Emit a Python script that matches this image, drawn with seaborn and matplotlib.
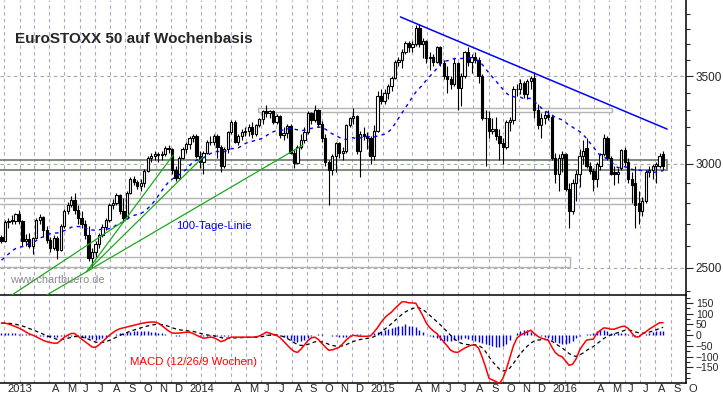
import numpy as np
import pandas as pd
import matplotlib
matplotlib.use("Agg")
import matplotlib.pyplot as plt
import matplotlib.dates as mdates
import matplotlib.transforms as mtransforms
from matplotlib.patches import Rectangle
from matplotlib.ticker import FixedLocator, FuncFormatter, NullFormatter
import seaborn as sns

sns.set_style("white")
plt.rcParams["font.family"] = ["Liberation Sans", "DejaVu Sans"]

# weekly candles, first week starts Monday 2012-12-24
first_week = "2012-12-24"
opens = [2640, 2620, 2709, 2720, 2712, 2749, 2712, 2620, 2630, 2600, 2635, 2720, 2735, 2670, 2625, 2590, 2635, 2580, 2690, 2760,
         2790, 2815, 2765, 2730, 2700, 2650, 2545, 2570, 2605, 2650, 2685, 2720, 2790, 2800, 2840, 2760, 2730, 2850, 2920, 2905,
         2885, 2900, 2965, 3030, 3040, 3050, 3045, 3055, 3085, 3080, 2970, 2925, 3030, 3080, 3105, 3140, 3150, 3040, 3010, 3060,
         3120, 3115, 3150, 3090, 2990, 3080, 3170, 3230, 3120, 3150, 3170, 3180, 3200, 3160, 3210, 3245, 3290, 3280, 3290, 3230,
         3265, 3155, 3165, 3205, 3060, 3005, 3090, 3130, 3175, 3280, 3240, 3300, 3220, 3140, 3010, 2970, 3040, 3110, 3060, 3070,
         3210, 3250, 3265, 3070, 3160, 3150, 3140, 3040, 3180, 3380, 3350, 3400, 3440, 3490, 3590, 3600, 3650, 3710, 3680, 3700,
         3810, 3700, 3720, 3610, 3620, 3590, 3680, 3580, 3500, 3480, 3450, 3580, 3430, 3500, 3650, 3590, 3620, 3600, 3500, 3250,
         3250, 3180, 3190, 3150, 3110, 3090, 3230, 3240, 3420, 3420, 3460, 3390, 3470, 3490, 3300, 3210, 3250, 3270, 3260, 3030,
         2950, 3030, 3050, 2870, 2760, 2900, 2950, 3040, 3085, 2990, 2965, 2920, 2990, 3050, 3140, 3030, 2960, 2950, 2980, 3075,
         3010, 2920, 2900, 2800, 2760, 2810, 2960, 2970, 2990, 2990, 3050]
highs = [2650, 2720, 2730, 2745, 2755, 2765, 2720, 2655, 2660, 2640, 2730, 2750, 2740, 2690, 2640, 2650, 2645, 2700, 2770, 2805,
         2835, 2850, 2790, 2760, 2720, 2690, 2590, 2620, 2660, 2700, 2730, 2800, 2820, 2850, 2845, 2825, 2860, 2930, 2935, 2915,
         2920, 2975, 3040, 3060, 3070, 3065, 3070, 3095, 3100, 3085, 2990, 3040, 3090, 3115, 3150, 3160, 3160, 3070, 3070, 3130,
         3150, 3160, 3160, 3100, 3090, 3180, 3240, 3240, 3160, 3190, 3200, 3220, 3230, 3215, 3250, 3295, 3325, 3300, 3295, 3275,
         3270, 3200, 3215, 3215, 3080, 3100, 3160, 3200, 3290, 3285, 3325, 3305, 3235, 3160, 3020, 3050, 3120, 3115, 3090, 3220,
         3260, 3310, 3270, 3180, 3200, 3170, 3150, 3210, 3410, 3420, 3420, 3450, 3500, 3600, 3620, 3670, 3720, 3720, 3720, 3830,
         3836, 3740, 3730, 3650, 3640, 3690, 3690, 3600, 3560, 3500, 3610, 3590, 3520, 3660, 3680, 3640, 3650, 3620, 3510, 3300,
         3290, 3250, 3260, 3190, 3140, 3240, 3260, 3440, 3450, 3480, 3470, 3480, 3500, 3525, 3330, 3280, 3290, 3300, 3270, 3060,
         3050, 3070, 3060, 2900, 2920, 2970, 3080, 3130, 3140, 3010, 2980, 3010, 3060, 3160, 3150, 3040, 2990, 2980, 3080, 3090,
         3030, 2960, 2990, 2860, 2830, 2970, 2990, 3000, 3010, 3060, 3070]
lows = [2610, 2615, 2680, 2700, 2700, 2700, 2600, 2600, 2590, 2560, 2630, 2700, 2640, 2610, 2570, 2580, 2540, 2575, 2680, 2750,
        2780, 2750, 2700, 2680, 2630, 2530, 2505, 2550, 2590, 2640, 2670, 2710, 2770, 2790, 2750, 2715, 2725, 2845, 2890, 2870,
        2860, 2880, 2960, 3010, 3020, 3010, 3020, 3040, 3060, 2950, 2910, 2920, 3025, 3060, 3080, 3120, 3030, 2980, 2950, 3050,
        3100, 3100, 3030, 2960, 2980, 3060, 3160, 3110, 3100, 3130, 3150, 3150, 3140, 3150, 3200, 3220, 3260, 3250, 3220, 3220,
        3140, 3130, 3140, 3050, 2980, 3000, 3080, 3110, 3160, 3220, 3230, 3200, 3120, 2990, 2790, 2940, 2960, 3030, 3020, 3060,
        3200, 3220, 3050, 2930, 3130, 3080, 3000, 3020, 3170, 3330, 3330, 3360, 3410, 3480, 3560, 3550, 3640, 3650, 3650, 3690,
        3680, 3610, 3580, 3540, 3560, 3580, 3560, 3480, 3400, 3420, 3440, 3300, 3320, 3490, 3560, 3520, 3580, 3460, 3240, 2990,
        3140, 3160, 3130, 3020, 3000, 3080, 3180, 3220, 3380, 3390, 3370, 3360, 3420, 3250, 3190, 3140, 3220, 3240, 3020, 2900,
        2860, 2960, 2860, 2680, 2750, 2810, 2880, 3000, 2980, 2950, 2860, 2880, 2970, 3040, 3020, 2940, 2890, 2900, 2970, 2990,
        2900, 2800, 2680, 2700, 2740, 2800, 2930, 2920, 2900, 2980, 2970]
closes = [2620, 2709, 2716, 2712, 2749, 2712, 2620, 2630, 2600, 2635, 2720, 2735, 2670, 2625, 2590, 2635, 2580, 2690, 2760, 2790,
          2815, 2765, 2730, 2700, 2650, 2545, 2570, 2605, 2650, 2685, 2720, 2790, 2800, 2840, 2760, 2730, 2850, 2920, 2905, 2885,
          2900, 2965, 3030, 3040, 3050, 3045, 3055, 3085, 3080, 2970, 2925, 3030, 3080, 3105, 3140, 3150, 3040, 3010, 3060, 3120,
          3115, 3150, 3090, 2990, 3080, 3170, 3230, 3120, 3150, 3170, 3180, 3200, 3160, 3210, 3245, 3290, 3280, 3290, 3230, 3265,
          3155, 3165, 3205, 3060, 3005, 3090, 3130, 3175, 3280, 3240, 3300, 3220, 3140, 3010, 2970, 3040, 3110, 3060, 3070, 3210,
          3250, 3265, 3070, 3160, 3150, 3140, 3040, 3180, 3380, 3350, 3400, 3440, 3490, 3590, 3600, 3650, 3710, 3680, 3700, 3810,
          3700, 3720, 3610, 3620, 3590, 3680, 3580, 3500, 3480, 3450, 3580, 3430, 3500, 3650, 3590, 3620, 3600, 3500, 3250, 3250,
          3180, 3190, 3150, 3110, 3090, 3230, 3240, 3420, 3420, 3460, 3390, 3470, 3490, 3300, 3210, 3250, 3270, 3260, 3030, 2950,
          3030, 3050, 2870, 2760, 2900, 2950, 3040, 3070, 2990, 2965, 2920, 3000, 3050, 3140, 3030, 2950, 2950, 2960, 3075, 3010,
          2920, 2890, 2790, 2760, 2810, 2960, 2970, 2990, 3000, 3040, 2990]
# closes of the weeks before the visible range (Jun-Dec 2012), feed the 20-week line
warmup_closes = [2150, 2170, 2180, 2265, 2230, 2250, 2240, 2310, 2410, 2440, 2450, 2430, 2440, 2530, 2590, 2570, 2455,
                 2520, 2480, 2580, 2500, 2540, 2480, 2460, 2560, 2580, 2610, 2630, 2660]

# MACD line, one value per week
macd_vals = [56, 56, 52, 46, 40, 33, 25, 15, 6, 0, -8, -16, -24, -30, -34, -37, -37, -25, -10, 0,
             8, 8, -5, -18, -30, -42, -55, -56, -45, -30, -15, 0, 12, 23, 30, 34, 38, 42, 46, 50,
             54, 57, 60, 61, 61, 56, 45, 32, 20, 10, 9, 10, 12, 14, 14, 8, 0, -8, -14, -12,
             -9, -12, -20, -30, -25, -15, -9, -9, -9, -9, -9, -9, -9, -8, -4, 4, 14, 10, 4, 0,
             -12, -28, -45, -62, -75, -80, -65, -45, -25, -12, -9, -20, -38, -55, -70, -68, -62, -56, -40, -22,
             -8, 0, -3, -5, -5, -5, -3, 15, 35, 60, 80, 95, 107, 125, 140, 155, 155, 150, 150, 148,
             120, 90, 56, 35, 20, 8, -12, -31, -50, -70, -78, -80, -70, -60, -52, -46, -46, -60, -100, -147,
             -200, -208, -215, -225, -200, -157, -103, -50, -14, 0, 8, 16, 23, 8, -5, -14, -18, -23, -54, -80,
             -94, -100, -120, -140, -135, -110, -70, -45, -23, -20, -18, 10, 23, 34, 32, 28, 28, 34, 40, 42,
             31, 10, -8, -8, 5, 15, 28, 38, 48, 58, 58]
# histogram bars, one value per week
hist_vals = [8, 10, 10, 9, 8, 7, 6, 5, 4, 3,
             -3, -5, -6, -7, -8, -8, -7, -5, -3, -2, -2, -3,
             -5, -8, -11, -14, -17, -20, -18, -14, -9, -4, 0, 4,
             8, 11, 14, 16, 18, 20, 20, 19, 18, 16, 14, 11, 8, 5, 3,
             1, -2, -2, 0, 2, 2, 1, -1,
             -3, -5, -5, -4, -4, -5, -6, -5, -3,
             -1, 0, 0, 0, 0, 0, 0, 1, 2, 3,
             5, 6, 4, 2,
             -4, -9, -15, -21, -27, -30, -28, -22, -14, -6,
             2, 5, 5, 3, 0, -3,
             -6, -8, -9, -7, -3,
             3, 5, 4, 2, 0, 0,
             10, 15, 20, 25, 30, 35, 40, 43, 45, 50, 45, 42, 40, 25, 15,
             3, -3,
             -10, -15, -20, -25, -25, -25, -23, -20, -18, -15, -17, -20, -25, -30, -35, -40, -45, -50, -55, -55, -48, -40, -20,
             0,
             10, 18, 25, 22, 15,
             5, 0, -3, -8, -15,
             -22, -30, -36, -40, -40, -35, -25, -15,
             -5, 0, 4, 6,
             12, 18, 22, 25, 20,
             12, 10, 10, 11, 10,
             4, -3, -5, -4, 2, 5,
             10, 14, 18, 20, 18]

# horizontal zones
zone_start = ["2012-12-01", "2012-12-01", "2012-12-01", "2014-05-26"]
zone_end = ["2016-08-25", "2016-07-08", "2016-02-11", "2016-05-07"]
zone_low = [2968, 2796, 2503, 3286]
zone_high = [3021, 2826, 2548, 3309]

# trend lines
resist_dates = ["2015-03-08", "2016-08-25"]
resist_vals = [3882, 3189]
fan_dates = [["2013-06-15", "2013-12-06"], ["2013-06-15", "2014-02-04"], ["2013-03-27", "2014-08-24"],
             ["2013-01-16", "2013-09-05"]]
fan_vals = [[2483, 3047], [2483, 3036], [2384, 3101], [2384, 2725]]

# ---------------------------------------------------------------
weeks = pd.date_range(first_week, periods=len(closes), freq="7D")
x = mdates.date2num(weeks + pd.Timedelta(days=2))
o, h, l, c = (np.array(v, dtype=float) for v in (opens, highs, lows, closes))

s = pd.Series(warmup_closes + closes, dtype=float)
ma20 = s.rolling(20).mean().values[len(warmup_closes):]
macd = pd.Series(macd_vals, dtype=float)
sig = macd.ewm(span=9, adjust=False).mean().values
macd = macd.values

W, H = 723, 397
fig = plt.figure(figsize=(W / 100, H / 100), dpi=100)


def box(x0, y0, x1, y1):
    return [x0 / W, 1 - y1 / H, (x1 - x0) / W, (y1 - y0) / H]


ax = fig.add_axes(box(0, 0, 686, 295))
axm = fig.add_axes(box(0, 296, 686, 383))

# candles
up = c >= o
ax.vlines(x, l, h, color="black", lw=0.8, zorder=3)
ax.bar(x[up], (c - o)[up], bottom=o[up], width=4.6, facecolor="white",
       edgecolor="black", linewidth=0.8, zorder=4)
ax.bar(x[~up], (o - c)[~up], bottom=c[~up], width=4.6, color="black",
       edgecolor="black", linewidth=0.8, zorder=4)

sns.lineplot(x=x, y=ma20, ax=ax, color="#0000ff", lw=1.0,
             linestyle=(0, (2.5, 3)), zorder=5)

for i in range(len(zone_low)):
    x0 = mdates.date2num(pd.Timestamp(zone_start[i]))
    x1 = mdates.date2num(pd.Timestamp(zone_end[i]))
    col, lw = ("#748474", 1.3) if i == 0 else ("#b4b4b4", 1.0)
    ax.add_patch(Rectangle((x0, zone_low[i]), x1 - x0, zone_high[i] - zone_low[i],
                           fill=False, edgecolor=col, lw=lw, zorder=2))

ax.plot(mdates.date2num(pd.to_datetime(resist_dates)), resist_vals, color="#0000ff", lw=1.1, zorder=6)
for d, v in zip(fan_dates, fan_vals):
    ax.plot(mdates.date2num(pd.to_datetime(d)), v, color="#1aaa1a", lw=0.9, zorder=6)

ax.set_yscale("log")
ax.set_ylim(2384, 3999)
ax.yaxis.tick_right()
ax.yaxis.set_major_locator(FixedLocator([2500, 3000, 3500]))
ax.yaxis.set_minor_locator(FixedLocator([v for v in range(2400, 4000, 100) if v % 500]))
ax.yaxis.set_major_formatter(FuncFormatter(lambda v, p: f"{v:.0f}"))
ax.yaxis.set_minor_formatter(NullFormatter())
ax.tick_params(axis="y", which="major", length=5, width=0.8, labelsize=8.5, pad=2)
ax.tick_params(axis="y", which="minor", length=3, width=0.8)

# MACD panel
axm.vlines(x, 0, hist_vals, color="#0000ff", lw=1.0, zorder=2)
sns.lineplot(x=x, y=sig, ax=axm, color="black", lw=0.9, linestyle=(0, (3, 2.5)), zorder=3)
sns.lineplot(x=x, y=macd, ax=axm, color="#ff0000", lw=1.1, zorder=4)
axm.set_ylim(-222, 182)
axm.yaxis.tick_right()
axm.yaxis.set_major_locator(FixedLocator(range(-150, 151, 50)))
axm.yaxis.set_minor_locator(FixedLocator(range(-200, 181, 25)))
axm.tick_params(axis="y", which="major", length=5, width=0.8, labelsize=7.5, pad=2)
axm.tick_params(axis="y", which="minor", length=3, width=0.8)

# month grid and labels
months = pd.date_range("2012-12-01", "2016-10-01", freq="MS")
mx = mdates.date2num(months)
mlabels = [str(d.year) if d.month == 1 else ("" if d.month in (2, 3) else "JFMAMJJASOND"[d.month - 1])
           for d in months]
xlim = mdates.date2num(pd.to_datetime(["2012-12-23", "2016-10-02"]))
for a in (ax, axm):
    a.set_xticks(mx)
    a.set_xlim(*xlim)
    a.grid(axis="x", color="#b0a4c2", ls=(0, (3, 3)), lw=0.8)
    a.set_xlabel("")
    a.set_ylabel("")
    for side in ("left", "top"):
        a.spines[side].set_visible(False)
    for side in ("right", "bottom"):
        a.spines[side].set_color("black")
        a.spines[side].set_linewidth(1.1)
ax.grid(axis="y", which="major", color="#9aab9a", ls=(0, (3, 3)), lw=0.8)
ax.tick_params(axis="x", length=0, labelbottom=False)
axm.set_xticklabels(mlabels)
axm.tick_params(axis="x", length=8, width=0.8, color="black", labelsize=8, pad=-7.3)
offset = mtransforms.ScaledTranslation(3 / 100, 0, fig.dpi_scale_trans)
for lab in axm.get_xticklabels():
    lab.set_ha("left")
    lab.set_transform(lab.get_transform() + offset)

# texts
fig.text(15 / W, 1 - 43 / H, "EuroSTOXX 50 auf Wochenbasis", fontsize=11,
         fontweight="bold", va="baseline", ha="left")
fig.text(176 / W, 1 - 229 / H, "100-Tage-Linie", fontsize=8.2, color="#0000ff", va="baseline")
fig.text(10 / W, 1 - 283 / H, "www.chartbuero.de", fontsize=7.9, color="#8c8c8c", va="baseline")
fig.text(130 / W, 1 - 365 / H, "MACD (12/26/9 Wochen)", fontsize=8.2, color="#ff0000", va="baseline")

fig.savefig("out.png", dpi=100)
